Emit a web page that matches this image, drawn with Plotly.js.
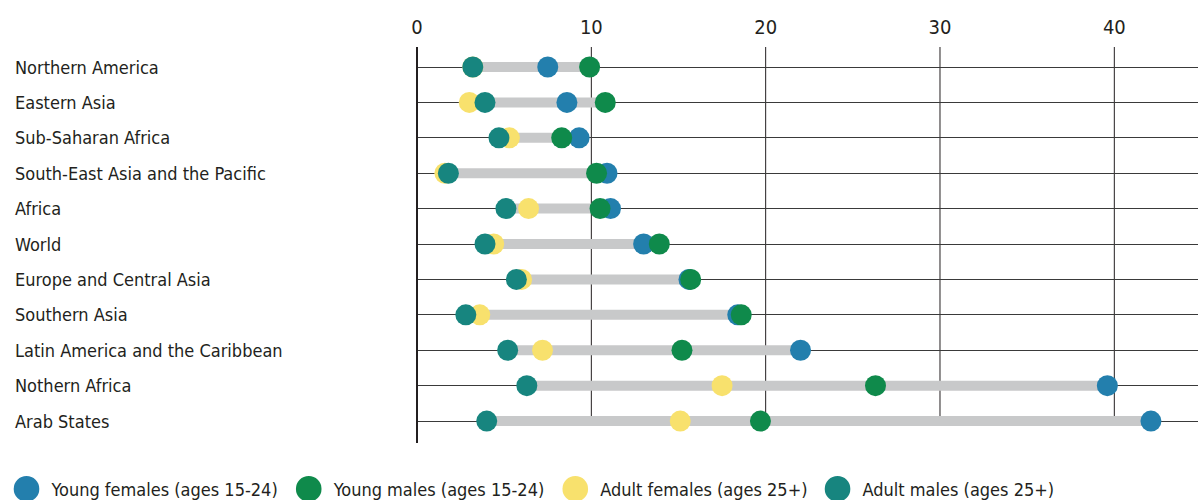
<!DOCTYPE html>
<html>
<head>
<meta charset="utf-8">
<script src="https://cdn.plot.ly/plotly-3.0.1.min.js"></script>
<style>html,body{margin:0;padding:0;background:#fff;}#chart{width:1198px;height:500px;}</style>
</head>
<body>
<div id="chart"></div>
<script>
const categories = ['Northern America','Eastern Asia','Sub-Saharan Africa','South-East Asia and the Pacific','Africa','World','Europe and Central Asia','Southern Asia','Latin America and the Caribbean','Nothern Africa','Arab States'];
const youngFemales = [7.5, 8.6, 9.3, 10.9, 11.1, 13.0, 15.6, 18.4, 22.0, 39.6, 42.1];
const youngMales   = [9.9, 10.8, 8.3, 10.3, 10.5, 13.9, 15.7, 18.6, 15.2, 26.3, 19.7];
const adultFemales = [3.2, 3.0, 5.3, 1.6, 6.4, 4.4, 6.0, 3.6, 7.2, 17.5, 15.1];
const adultMales   = [3.2, 3.9, 4.7, 1.8, 5.1, 3.9, 5.7, 2.8, 5.2, 6.3, 4.0];
const seriesNames = ['Young females (ages 15-24)','Young males (ages 15-24)','Adult females (ages 25+)','Adult males (ages 25+)'];
const xTicks = [0, 10, 20, 30, 40];

const FONT = '"Liberation Sans Narrow", "DejaVu Sans Condensed", "Noto Sans Condensed", "Roboto Condensed", Roboto, sans-serif';
const colors = ['#237fad', '#0f8a4b', '#f8e16d', '#17857f'];
const allSeries = [youngFemales, youngMales, adultFemales, adultMales];

const barX = [], barY = [];
categories.forEach((c, i) => {
  const vals = allSeries.map(s => s[i]);
  barX.push(Math.min(...vals), Math.max(...vals), null);
  barY.push(c, c, null);
});

const traces = [{
  type: 'scatter', mode: 'lines', x: barX, y: barY,
  line: {color: '#c8c9ca', width: 10}, hoverinfo: 'skip', showlegend: false
}];
allSeries.forEach((s, k) => {
  traces.push({
    type: 'scatter', mode: 'markers', name: seriesNames[k],
    x: s, y: categories,
    marker: {color: colors[k], size: 21, line: {width: 0}}
  });
});

const shapes = xTicks.filter(t => t !== 0).map(t => ({
  type: 'line', xref: 'x', yref: 'y', x0: t, x1: t,
  y0: -0.565, y1: categories.length - 1,
  line: {color: '#231f20', width: 1}, layer: 'below'
}));

const annotations = categories.map(c => ({
  xref: 'paper', yref: 'y', x: -0.5172, y: c, xanchor: 'left', yanchor: 'middle',
  text: c, showarrow: false, font: {family: FONT, size: 18, color: '#231f20'}
}));

const layout = {
  width: 1198, height: 500,
  margin: {l: 417, r: 0, t: 47, b: 57, autoexpand: false},
  paper_bgcolor: '#fff', plot_bgcolor: '#fff',
  showlegend: true,
  legend: {
    orientation: 'h', x: -0.532, xanchor: 'left', y: -0.07, yanchor: 'top',
    font: {family: FONT, size: 18, color: '#231f20'}, itemwidth: 40,
    bgcolor: 'rgba(0,0,0,0)'
  },
  xaxis: {
    side: 'top', range: [0, 44.8], tickvals: xTicks, ticks: '', ticklabelstandoff: 8,
    showgrid: false, zeroline: true, zerolinecolor: '#231f20', zerolinewidth: 2.5,
    showline: false, tickfont: {family: FONT, size: 20, color: '#231f20'}, fixedrange: true
  },
  yaxis: {
    type: 'category', categoryarray: categories, categoryorder: 'array',
    range: [10.62, -0.565], showticklabels: false, ticks: '',
    showgrid: true, gridcolor: '#3a3a3a', gridwidth: 1, zeroline: false, showline: false, fixedrange: true
  },
  shapes: shapes,
  annotations: annotations,
  hovermode: false
};

Plotly.newPlot('chart', traces, layout, {staticPlot: true}).then(() => {
  document.querySelectorAll('#chart .legend .traces .scatterpts').forEach(p => {
    const t = p.getAttribute('transform') || '';
    p.setAttribute('transform', t + ' scale(1.6)');
  });
});
</script>
</body>
</html>
